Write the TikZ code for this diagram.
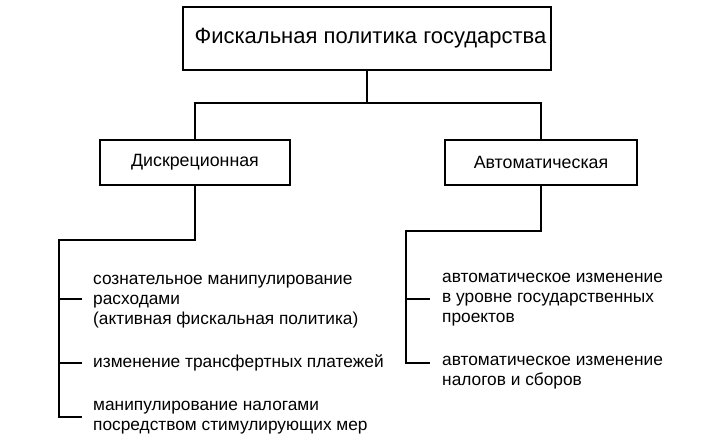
\documentclass[tikz,border=0pt]{standalone}
\usepackage{fontspec}
\setmainfont{Liberation Sans}
\begin{document}
\begin{tikzpicture}[x=1pt,y=-1pt,
  box/.style={draw, line width=1.6pt, inner sep=0pt, align=center},
  item/.style={anchor=west, align=left, inner sep=0pt, font=\fontsize{17.3}{20}\selectfont},
  conn/.style={line width=1.6pt}]
\useasboundingbox (0,0) rectangle (701,441);
\node[box, minimum width=368, minimum height=63, font=\fontsize{22}{26}\selectfont] (top) at (367,38.5) {\hspace*{7pt}Фискальная политика государства};
\node[box, minimum width=190, minimum height=45, font=\fontsize{17.8}{20}\selectfont] (disc) at (195,162.5) {Дискреционная};
\node[box, minimum width=192, minimum height=45, font=\fontsize{17.8}{20}\selectfont] (auto) at (541,162.5) {Автоматическая};
\coordinate (bus) at (0,103);
\draw[conn] (top.south) -- (top.south |- bus);
\draw[conn] (disc.north) -- (disc.north |- bus) -- (auto.north |- bus) -- (auto.north);
% left list
\node[item] (l1) at (93,302) {сознательное манипулирование\\расходами\\(активная фискальная политика)};
\node[item] (l2) at (93,363) {изменение трансфертных платежей};
\node[item] (l3) at (93,418) {манипулирование налогами\\посредством стимулирующих мер};
\coordinate (lb) at (59,240);
\coordinate (t1) at (82,299);
\coordinate (t2) at (82,363);
\coordinate (t3) at (82,417);
\draw[conn] (disc.south) -- (disc.south |- lb) -- (lb) -- (lb |- t3) -- (t3);
\draw[conn] (lb |- t1) -- (t1);
\draw[conn] (lb |- t2) -- (t2);
% right list
\node[item] (r1) at (442,300) {автоматическое изменение\\в уровне государственных\\проектов};
\node[item] (r2) at (442,373) {автоматическое изменение\\налогов и сборов};
\coordinate (rb) at (406,231);
\coordinate (s1) at (430,299);
\coordinate (s2) at (430,363);
\draw[conn] (auto.south) -- (auto.south |- rb) -- (rb) -- (rb |- s2) -- (s2);
\draw[conn] (rb |- s1) -- (s1);
\end{tikzpicture}
\end{document}
